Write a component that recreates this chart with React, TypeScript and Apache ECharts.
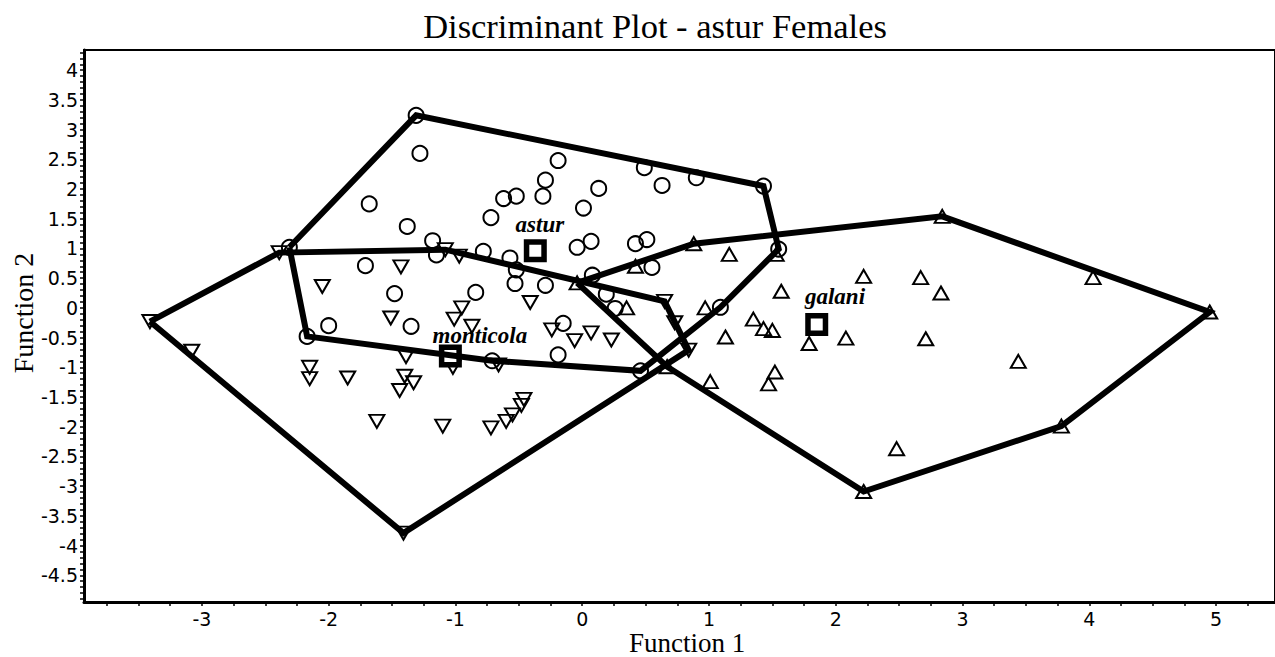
import React, { useEffect, useRef } from 'react';
import * as echarts from 'echarts';

// astur (circles)
const asturPoints: [number, number][] = [
  [-1.31, 3.24], [-1.28, 2.60], [-1.68, 1.75], [-1.38, 1.37], [-1.18, 1.13],
  [-1.15, 0.89], [-2.31, 1.02], [-1.71, 0.71], [-0.78, 0.95], [-0.72, 1.52],
  [-0.19, 2.48], [-0.29, 2.15], [-0.31, 1.88], [-0.62, 1.84], [-0.52, 1.88],
  [0.13, 2.01], [0.01, 1.68], [0.49, 2.36], [0.63, 2.06], [0.90, 2.19],
  [1.43, 2.05], [1.55, 0.99], [-0.57, 0.84], [-0.52, 0.64], [-0.53, 0.41],
  [-0.29, 0.38], [-0.04, 1.02], [0.07, 1.12], [0.42, 1.08], [0.51, 1.15],
  [0.55, 0.68], [0.08, 0.55], [-0.84, 0.26], [0.19, 0.23], [0.26, -0.01],
  [1.09, 0.01], [-0.19, -0.79], [-0.15, -0.26], [0.46, -1.06], [-0.71, -0.89],
  [-1.35, -0.31], [-1.48, 0.24], [-2.00, -0.30], [-2.17, -0.48],
];

// monticola (down triangles)
const monticolaPoints: [number, number][] = [
  [-3.41, -0.23], [-2.39, 0.93], [-2.05, 0.36], [-1.43, 0.69], [-1.51, -0.17],
  [-3.08, -0.73], [-2.15, -1.00], [-2.15, -1.19], [-1.85, -1.18], [-1.62, -1.91],
  [-1.41, -3.79], [-1.39, -0.82], [-1.40, -1.15], [-1.44, -1.39], [-1.33, -1.26],
  [-1.10, -1.99], [-0.72, -2.02], [-0.60, -1.91], [-0.55, -1.80], [-0.48, -1.64],
  [-0.46, -1.54], [-0.95, 0.00], [-1.01, -0.19], [-0.87, -0.31], [-1.02, -1.00],
  [-1.08, 0.98], [-0.97, 0.87], [-0.41, 0.09], [-0.24, -0.37], [-0.06, -0.55],
  [0.07, -0.42], [0.23, -0.54], [0.65, 0.11], [0.73, -0.25], [0.84, -0.71],
  [-0.66, -0.96],
];

// galani (up triangles)
const galaniPoints: [number, number][] = [
  [0.88, 1.08], [1.16, 0.90], [1.53, 0.90], [1.57, 0.28], [0.97, 0.00],
  [1.35, -0.19], [1.43, -0.35], [1.50, -0.38], [1.13, -0.49], [1.79, -0.60],
  [2.08, -0.51], [1.52, -1.08], [1.47, -1.28], [1.01, -1.24], [0.67, -0.99],
  [2.84, 1.54], [2.22, 0.53], [2.67, 0.51], [2.83, 0.25], [4.03, 0.51],
  [4.95, -0.07], [3.78, -1.99], [3.44, -0.90], [2.71, -0.52], [2.48, -2.37],
  [2.22, -3.09], [0.42, 0.70], [0.35, 0.00], [-0.04, 0.42],
];

const centroidNames = ['astur', 'monticola', 'galani'];
const centroidValues: [number, number][] = [[-0.37, 0.96], [-1.04, -0.81], [1.85, -0.28]];

const xTickLabels = [-3, -2, -1, 0, 1, 2, 3, 4, 5];
const yTickLabels = [-4.5, -4, -3.5, -3, -2.5, -2, -1.5, -1, -0.5, 0, 0.5, 1, 1.5, 2, 2.5, 3, 3.5, 4];

const titleText = 'Discriminant Plot - astur Females';
const xAxisTitle = 'Function 1';
const yAxisTitle = 'Function 2';

function convexHull(points: [number, number][]): [number, number][] {
  const pts = points.slice().sort((a, b) => (a[0] === b[0] ? a[1] - b[1] : a[0] - b[0]));
  const cross = (o: number[], a: number[], b: number[]) =>
    (a[0] - o[0]) * (b[1] - o[1]) - (a[1] - o[1]) * (b[0] - o[0]);
  const lower: [number, number][] = [];
  for (const p of pts) {
    while (lower.length >= 2 && cross(lower[lower.length - 2], lower[lower.length - 1], p) <= 0) lower.pop();
    lower.push(p);
  }
  const upper: [number, number][] = [];
  for (let i = pts.length - 1; i >= 0; i--) {
    const p = pts[i];
    while (upper.length >= 2 && cross(upper[upper.length - 2], upper[upper.length - 1], p) <= 0) upper.pop();
    upper.push(p);
  }
  upper.pop();
  lower.pop();
  const hull = lower.concat(upper);
  hull.push(hull[0]);
  return hull;
}

export default function App() {
  const ref = useRef<HTMLDivElement>(null);
  useEffect(() => {
    if (!ref.current) return;
    const chart = echarts.init(ref.current, null, { renderer: 'svg' });

    const xMinorTicks: number[] = [];
    for (let i = -15; i <= 21; i++) xMinorTicks.push(i / 4);
    const yMinorTicks: number[] = [];
    for (let i = -49; i <= 43; i++) yMinorTicks.push(i / 10);

    const markerStyle = { color: 'rgba(0,0,0,0)', borderColor: '#000', borderWidth: 2, opacity: 1 };
    const labelOffsets: [number, number][] = [[-17, -24], [-15, -18], [-9, -25]];
    const sq = 17.5;

    const hullSeries = [asturPoints, monticolaPoints, galaniPoints].map((pts) => ({
      type: 'line',
      data: convexHull(pts),
      symbol: 'none',
      showSymbol: false,
      silent: true,
      z: 6,
      lineStyle: { color: '#000', width: 6, join: 'miter', cap: 'butt', opacity: 1 },
    }));

    chart.setOption({
      animation: false,
      backgroundColor: '#fff',
      grid: {
        left: 84,
        right: 0,
        top: 50,
        bottom: 55,
        show: true,
        borderColor: '#000',
        borderWidth: 2,
        containLabel: false,
        outerBoundsMode: 'none',
      },
      xAxis: {
        type: 'value',
        min: -3.93,
        max: 5.465,
        splitLine: { show: false },
        axisLine: { show: true, onZero: false, lineStyle: { color: '#000', width: 3 } },
        axisTick: { show: true, customValues: xMinorTicks, length: 4, inside: false, lineStyle: { color: '#000', width: 1.5 } },
        axisLabel: {
          customValues: xTickLabels,
          color: '#000',
          fontFamily: 'DejaVu Sans',
          fontSize: 19,
          margin: 7,
        },
      },
      yAxis: {
        type: 'value',
        min: -4.95,
        max: 4.34,
        splitLine: { show: false },
        axisLine: { show: true, onZero: false, lineStyle: { color: '#000', width: 3 } },
        axisTick: { show: true, customValues: yMinorTicks, length: 4, inside: false, lineStyle: { color: '#000', width: 1.5 } },
        axisLabel: {
          customValues: yTickLabels,
          color: '#000',
          fontFamily: 'DejaVu Sans',
          fontSize: 19,
          margin: 6,
        },
      },
      graphic: [
        {
          type: 'text',
          x: 655,
          y: 26,
          style: {
            text: titleText,
            font: '34.5px "Liberation Serif"',
            fill: '#000',
            textAlign: 'center',
            textVerticalAlign: 'middle',
          },
        },
        {
          type: 'text',
          x: 687,
          y: 656,
          style: {
            text: xAxisTitle,
            font: '27px "Liberation Serif"',
            fill: '#000',
            textAlign: 'center',
            textVerticalAlign: 'bottom',
          },
        },
        {
          type: 'text',
          x: 23,
          y: 313,
          rotation: Math.PI / 2,
          style: {
            text: yAxisTitle,
            font: '28px "Liberation Serif"',
            fill: '#000',
            textAlign: 'center',
            textVerticalAlign: 'middle',
          },
        },
      ],
      series: [
        {
          type: 'scatter',
          data: asturPoints,
          symbol: 'circle',
          symbolSize: 15,
          itemStyle: markerStyle,
          silent: true,
          z: 2,
        },
        {
          type: 'scatter',
          data: monticolaPoints,
          symbol: 'triangle',
          symbolRotate: 180,
          symbolSize: [15, 13],
          itemStyle: markerStyle,
          silent: true,
          z: 2,
        },
        {
          type: 'scatter',
          data: galaniPoints,
          symbol: 'triangle',
          symbolSize: [15, 13],
          itemStyle: markerStyle,
          silent: true,
          z: 2,
        },
        {
          type: 'scatter',
          data: centroidValues.map((v, i) => ({
            value: v,
            name: centroidNames[i],
            label: {
              show: true,
              formatter: centroidNames[i],
              position: [labelOffsets[i][0] + sq / 2, labelOffsets[i][1] + sq / 2],
              align: 'left',
              verticalAlign: 'middle',
              fontFamily: 'Liberation Serif',
              fontStyle: 'italic',
              fontWeight: 'bold',
              fontSize: 23,
              color: '#000',
              opacity: 1,
            },
          })),
          symbol: 'rect',
          symbolSize: sq,
          itemStyle: { color: '#fff', borderColor: '#000', borderWidth: 5.5, opacity: 1 },
          silent: true,
          z: 4,
        },
        ...hullSeries,
      ],
    } as any);

    return () => chart.dispose();
  }, []);

  return (
    <div
      ref={ref}
      style={{ position: 'absolute', left: 0, top: 0, width: '1275px', height: '657px', background: '#fff' }}
    />
  );
}
